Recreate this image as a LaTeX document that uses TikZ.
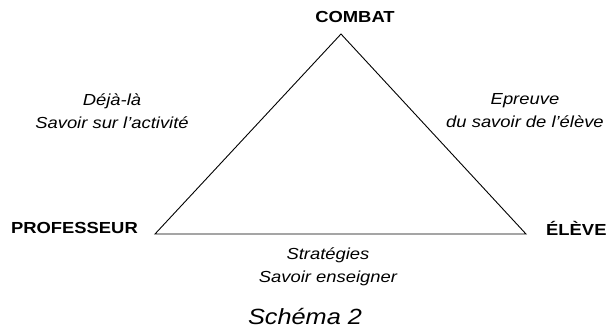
\documentclass[tikz,border=0pt]{standalone}
\usepackage{fontspec}
\setmainfont{Liberation Sans}[FakeStretch=1.15]
\begin{document}
\begin{tikzpicture}[x=1pt,y=-1pt,
  vlabel/.style={font=\fontsize{16}{18}\selectfont\bfseries, inner sep=0pt},
  elabel/.style={font=\fontsize{16}{23}\selectfont\itshape, align=center, inner sep=0pt},
  edge/.style={draw=black, line width=0.9pt, line join=miter}]
\useasboundingbox (0,0) rectangle (608,333);
\coordinate (top) at (341,34);
\coordinate (left) at (155,234);
\coordinate (right) at (526,234);
\draw[edge] (top) -- (left) -- (right) -- cycle;
\node[vlabel] (combat) at (355,17) {COMBAT};
\node[vlabel, anchor=east] (prof) at (138,228) {PROFESSEUR};
\node[vlabel, anchor=west] (eleve) at (546,228) {ÉLÈVE};
\node[elabel] (lefttext) at (112,111) {Déjà-là\\Savoir sur l'activité};
\node[elabel] (righttext) at (525,111) {Epreuve\\du savoir de l'élève};
\node[elabel] (bottomtext) at (328,267) {Stratégies\\Savoir enseigner};
\node[font=\fontsize{22}{24}\selectfont\itshape, inner sep=0pt] (caption) at (305,317) {Schéma 2};
\end{tikzpicture}
\end{document}
